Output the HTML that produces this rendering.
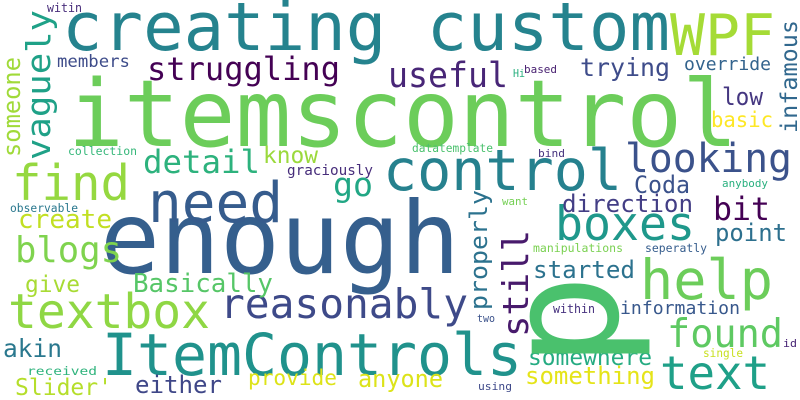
<!DOCTYPE html>
<html><head><meta charset="utf-8"><style>
html,body{margin:0;padding:0;background:#fff}
svg{display:block}
text{font-family:"DejaVu Sans Mono","Liberation Mono",monospace}
</style></head><body>
<svg id="cloud" width="800" height="400" viewBox="0 0 800 400" xmlns="http://www.w3.org/2000/svg">
<rect width="800" height="400" fill="#fff"/>
</svg>
<script>
// word, x, baseline y, font size, text length, color, rotation
const words = ["itemscontrol","creating custom","WPF","enough","control","need","find","help","text","ItemControls","textbox","boxes","reasonably","looking","struggling","useful","trying","override","low","basic","Coda","bit","direction","point","started","manipulations","seperatly","want","somewhere","something","found","information","within","two","using","id","single","go","detail","know","graciously","collection","members","witin","Hi","based","datatemplate","bind","anybody","observable","create","blogs","give","Basically","akin","received","Slider'","either","provide","anyone","vaguely","someone","infamous","still","properly","p"];
const xs = [68,62,670,100,383,148,12,640,660,102,8,555,220,625,147,388,580,684,722,711,634,713,562,715,533,533,645,502,528,525,667,620,553,477,478,783,703,333,143,263,287,68,57,47,513,524,412,538,722,10,18,15,25,133,3,27,15,135,248,358,50,20,797,528,487,617];
const ys = [146,50,55,273,190,222,200,299,389,375,328,240,318,172,80,87,76,70,105,127,193,220,212,241,278,252,252,205,365,384,347,314,313,322,390,347,357,196,173,163,175,155,67,12,77,73,152,157,187,212,228,262,292,292,357,375,395,393,385,387,160,157,133,337,310,368];
const sizes = [93,67,57,100,57,56,49,55,46,58,48,47,41,40,32,35,25,18,24,21,24,32,24,24,24,11.5,11.5,11,23,24,39,18,12,11,11,11,11.5,33,32,23,14.4,11.5,17,12,11,11,11.3,11,11,11.3,26,36,23,26,25,11.6,23,24,21,24,33,24,23,36,24,156];
const lens = [670,608,105,360,239,135,118,133,110,420,202,140,248,167,193,120,90,87,41,62,56,57,131,72,102,90,62,26,124,130,116,120,42,18,34,14,40,40,117,55,86,69,73,35,12,33,81,27,46,68,94,107,55,140,59,70,97,87,89,85,150,100,113,107,120,94];
const colors = ["#6ccd5a","#25838e","#a5db36","#355f8d","#26818e","#365c8d","#95d840","#6ccd5a","#1fa088","#20928c","#8fd744","#1f988b","#3e4a89","#3b528b","#440154","#482677","#3e4c8a","#33638d","#453781","#fde725","#3b528b","#440154","#433e85","#2d708e","#2c728e","#7ad151","#365d8d","#75d054","#25ab82","#e5e419","#5ec962","#38588c","#46307e","#3b528b","#3e4989","#482475","#c8e020","#22a785","#2db27d","#9bd93c","#472d7b","#35b779","#3e4c8a","#472c7a","#29af7f","#482071","#4ac16d","#46327e","#2ab07f","#2a788e","#c2df23","#7fd34e","#a8db34","#56c667","#2a788e","#2eb37c","#b5de2b","#3f4788","#dde318","#dce319","#1fa187","#a0da39","#31688e","#481a6c","#2c728e","#4ac16d"];
const rots = [0,0,0,0,0,0,0,0,0,0,0,0,0,0,0,0,0,0,0,0,0,0,0,0,0,0,0,0,0,0,0,0,0,0,0,0,0,0,0,0,0,0,0,0,0,0,0,0,0,0,0,0,0,0,0,0,0,0,0,0,-90,-90,-90,-90,-90,-90];
const svg = document.getElementById('cloud');
const NS = 'http://www.w3.org/2000/svg';
for (let i = 0; i < words.length; i++) {
  const t = document.createElementNS(NS, 'text');
  
  
  t.setAttribute('x', xs[i]);
  t.setAttribute('y', ys[i]);
  t.setAttribute('font-size', sizes[i]);
  t.setAttribute('fill', colors[i]);
  t.setAttribute('textLength', lens[i]);
  t.setAttribute('lengthAdjust', 'spacingAndGlyphs');
  if (rots[i]) t.setAttribute('transform', 'rotate(' + rots[i] + ' ' + xs[i] + ' ' + ys[i] + ')');
  t.textContent = words[i];
  svg.appendChild(t);
}
</script>
</body></html>
